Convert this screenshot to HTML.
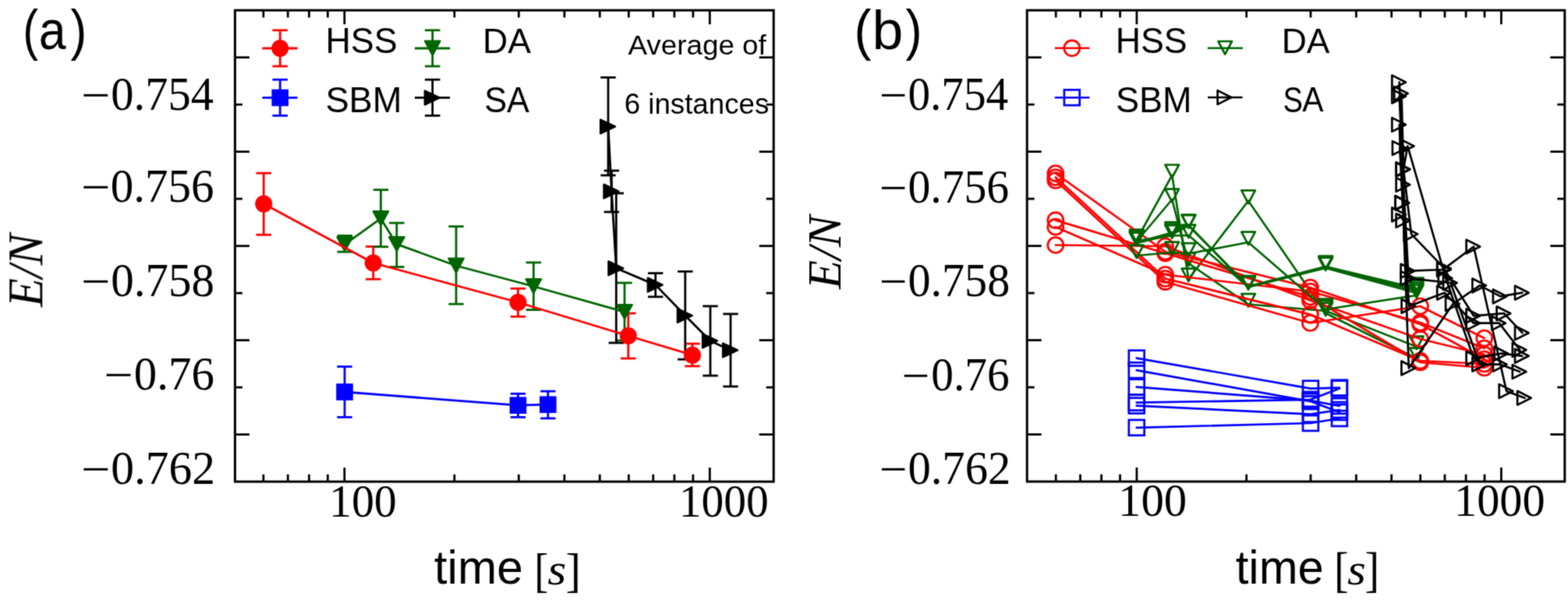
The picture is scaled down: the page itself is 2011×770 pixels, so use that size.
<!DOCTYPE html>
<html lang="en">
<head>
<meta charset="utf-8">
<title>E/N versus time</title>
<style>
html,body{margin:0;padding:0;background:#fff;}
body{width:2011px;height:770px;overflow:hidden;}
svg{display:block;}
text{fill:#000;}
.serif{font-family:"Liberation Serif",serif;}
.sans{font-family:"Liberation Sans",sans-serif;}
</style>
</head>
<body>
<svg width="2011" height="770" viewBox="0 0 2011 770">
<defs><filter id="soft" filterUnits="userSpaceOnUse" x="0" y="0" width="2011" height="770" color-interpolation-filters="sRGB"><feConvolveMatrix order="3" kernelMatrix="0.0289 0.1122 0.0289 0.1122 0.4356 0.1122 0.0289 0.1122 0.0289" divisor="1" edgeMode="none" preserveAlpha="false"/></filter></defs>
<rect x="0" y="0" width="2011" height="770" fill="#ffffff"/>
<g filter="url(#soft)">
<rect x="301.40" y="13.20" width="690.80" height="604.90" fill="none" stroke="#000" stroke-width="3.0"/>
<line x1="337.86" y1="618.10" x2="337.86" y2="608.80" stroke="#000000" stroke-width="2.8" stroke-linecap="butt"/>
<line x1="337.86" y1="13.20" x2="337.86" y2="22.50" stroke="#000000" stroke-width="2.8" stroke-linecap="butt"/>
<line x1="369.23" y1="618.10" x2="369.23" y2="608.80" stroke="#000000" stroke-width="2.8" stroke-linecap="butt"/>
<line x1="369.23" y1="13.20" x2="369.23" y2="22.50" stroke="#000000" stroke-width="2.8" stroke-linecap="butt"/>
<line x1="396.40" y1="618.10" x2="396.40" y2="608.80" stroke="#000000" stroke-width="2.8" stroke-linecap="butt"/>
<line x1="396.40" y1="13.20" x2="396.40" y2="22.50" stroke="#000000" stroke-width="2.8" stroke-linecap="butt"/>
<line x1="420.36" y1="618.10" x2="420.36" y2="608.80" stroke="#000000" stroke-width="2.8" stroke-linecap="butt"/>
<line x1="420.36" y1="13.20" x2="420.36" y2="22.50" stroke="#000000" stroke-width="2.8" stroke-linecap="butt"/>
<line x1="441.80" y1="618.10" x2="441.80" y2="600.10" stroke="#000000" stroke-width="2.8" stroke-linecap="butt"/>
<line x1="441.80" y1="13.20" x2="441.80" y2="31.20" stroke="#000000" stroke-width="2.8" stroke-linecap="butt"/>
<line x1="582.83" y1="618.10" x2="582.83" y2="608.80" stroke="#000000" stroke-width="2.8" stroke-linecap="butt"/>
<line x1="582.83" y1="13.20" x2="582.83" y2="22.50" stroke="#000000" stroke-width="2.8" stroke-linecap="butt"/>
<line x1="665.33" y1="618.10" x2="665.33" y2="608.80" stroke="#000000" stroke-width="2.8" stroke-linecap="butt"/>
<line x1="665.33" y1="13.20" x2="665.33" y2="22.50" stroke="#000000" stroke-width="2.8" stroke-linecap="butt"/>
<line x1="723.87" y1="618.10" x2="723.87" y2="608.80" stroke="#000000" stroke-width="2.8" stroke-linecap="butt"/>
<line x1="723.87" y1="13.20" x2="723.87" y2="22.50" stroke="#000000" stroke-width="2.8" stroke-linecap="butt"/>
<line x1="769.27" y1="618.10" x2="769.27" y2="608.80" stroke="#000000" stroke-width="2.8" stroke-linecap="butt"/>
<line x1="769.27" y1="13.20" x2="769.27" y2="22.50" stroke="#000000" stroke-width="2.8" stroke-linecap="butt"/>
<line x1="806.36" y1="618.10" x2="806.36" y2="608.80" stroke="#000000" stroke-width="2.8" stroke-linecap="butt"/>
<line x1="806.36" y1="13.20" x2="806.36" y2="22.50" stroke="#000000" stroke-width="2.8" stroke-linecap="butt"/>
<line x1="837.73" y1="618.10" x2="837.73" y2="608.80" stroke="#000000" stroke-width="2.8" stroke-linecap="butt"/>
<line x1="837.73" y1="13.20" x2="837.73" y2="22.50" stroke="#000000" stroke-width="2.8" stroke-linecap="butt"/>
<line x1="864.90" y1="618.10" x2="864.90" y2="608.80" stroke="#000000" stroke-width="2.8" stroke-linecap="butt"/>
<line x1="864.90" y1="13.20" x2="864.90" y2="22.50" stroke="#000000" stroke-width="2.8" stroke-linecap="butt"/>
<line x1="888.86" y1="618.10" x2="888.86" y2="608.80" stroke="#000000" stroke-width="2.8" stroke-linecap="butt"/>
<line x1="888.86" y1="13.20" x2="888.86" y2="22.50" stroke="#000000" stroke-width="2.8" stroke-linecap="butt"/>
<line x1="910.30" y1="618.10" x2="910.30" y2="600.10" stroke="#000000" stroke-width="2.8" stroke-linecap="butt"/>
<line x1="910.30" y1="13.20" x2="910.30" y2="31.20" stroke="#000000" stroke-width="2.8" stroke-linecap="butt"/>
<line x1="301.40" y1="73.69" x2="319.90" y2="73.69" stroke="#000000" stroke-width="2.8" stroke-linecap="butt"/>
<line x1="992.20" y1="73.69" x2="973.70" y2="73.69" stroke="#000000" stroke-width="2.8" stroke-linecap="butt"/>
<line x1="301.40" y1="134.18" x2="310.90" y2="134.18" stroke="#000000" stroke-width="2.8" stroke-linecap="butt"/>
<line x1="992.20" y1="134.18" x2="982.70" y2="134.18" stroke="#000000" stroke-width="2.8" stroke-linecap="butt"/>
<line x1="301.40" y1="194.67" x2="319.90" y2="194.67" stroke="#000000" stroke-width="2.8" stroke-linecap="butt"/>
<line x1="992.20" y1="194.67" x2="973.70" y2="194.67" stroke="#000000" stroke-width="2.8" stroke-linecap="butt"/>
<line x1="301.40" y1="255.16" x2="310.90" y2="255.16" stroke="#000000" stroke-width="2.8" stroke-linecap="butt"/>
<line x1="992.20" y1="255.16" x2="982.70" y2="255.16" stroke="#000000" stroke-width="2.8" stroke-linecap="butt"/>
<line x1="301.40" y1="315.65" x2="319.90" y2="315.65" stroke="#000000" stroke-width="2.8" stroke-linecap="butt"/>
<line x1="992.20" y1="315.65" x2="973.70" y2="315.65" stroke="#000000" stroke-width="2.8" stroke-linecap="butt"/>
<line x1="301.40" y1="376.14" x2="310.90" y2="376.14" stroke="#000000" stroke-width="2.8" stroke-linecap="butt"/>
<line x1="992.20" y1="376.14" x2="982.70" y2="376.14" stroke="#000000" stroke-width="2.8" stroke-linecap="butt"/>
<line x1="301.40" y1="436.63" x2="319.90" y2="436.63" stroke="#000000" stroke-width="2.8" stroke-linecap="butt"/>
<line x1="992.20" y1="436.63" x2="973.70" y2="436.63" stroke="#000000" stroke-width="2.8" stroke-linecap="butt"/>
<line x1="301.40" y1="497.12" x2="310.90" y2="497.12" stroke="#000000" stroke-width="2.8" stroke-linecap="butt"/>
<line x1="992.20" y1="497.12" x2="982.70" y2="497.12" stroke="#000000" stroke-width="2.8" stroke-linecap="butt"/>
<line x1="301.40" y1="557.61" x2="319.90" y2="557.61" stroke="#000000" stroke-width="2.8" stroke-linecap="butt"/>
<line x1="992.20" y1="557.61" x2="973.70" y2="557.61" stroke="#000000" stroke-width="2.8" stroke-linecap="butt"/>
<line x1="338.20" y1="222.20" x2="338.20" y2="301.30" stroke="#ff0000" stroke-width="2.8" stroke-linecap="butt"/>
<line x1="328.50" y1="222.20" x2="347.90" y2="222.20" stroke="#ff0000" stroke-width="2.8" stroke-linecap="butt"/>
<line x1="328.50" y1="301.30" x2="347.90" y2="301.30" stroke="#ff0000" stroke-width="2.8" stroke-linecap="butt"/>
<line x1="478.70" y1="316.40" x2="478.70" y2="358.30" stroke="#ff0000" stroke-width="2.8" stroke-linecap="butt"/>
<line x1="469.00" y1="316.40" x2="488.40" y2="316.40" stroke="#ff0000" stroke-width="2.8" stroke-linecap="butt"/>
<line x1="469.00" y1="358.30" x2="488.40" y2="358.30" stroke="#ff0000" stroke-width="2.8" stroke-linecap="butt"/>
<line x1="664.40" y1="370.30" x2="664.40" y2="406.30" stroke="#ff0000" stroke-width="2.8" stroke-linecap="butt"/>
<line x1="654.70" y1="370.30" x2="674.10" y2="370.30" stroke="#ff0000" stroke-width="2.8" stroke-linecap="butt"/>
<line x1="654.70" y1="406.30" x2="674.10" y2="406.30" stroke="#ff0000" stroke-width="2.8" stroke-linecap="butt"/>
<line x1="805.80" y1="402.10" x2="805.80" y2="460.00" stroke="#ff0000" stroke-width="2.8" stroke-linecap="butt"/>
<line x1="796.10" y1="402.10" x2="815.50" y2="402.10" stroke="#ff0000" stroke-width="2.8" stroke-linecap="butt"/>
<line x1="796.10" y1="460.00" x2="815.50" y2="460.00" stroke="#ff0000" stroke-width="2.8" stroke-linecap="butt"/>
<line x1="888.00" y1="441.10" x2="888.00" y2="469.90" stroke="#ff0000" stroke-width="2.8" stroke-linecap="butt"/>
<line x1="878.30" y1="441.10" x2="897.70" y2="441.10" stroke="#ff0000" stroke-width="2.8" stroke-linecap="butt"/>
<line x1="878.30" y1="469.90" x2="897.70" y2="469.90" stroke="#ff0000" stroke-width="2.8" stroke-linecap="butt"/>
<line x1="442.00" y1="470.50" x2="442.00" y2="535.40" stroke="#0000ff" stroke-width="2.8" stroke-linecap="butt"/>
<line x1="432.30" y1="470.50" x2="451.70" y2="470.50" stroke="#0000ff" stroke-width="2.8" stroke-linecap="butt"/>
<line x1="432.30" y1="535.40" x2="451.70" y2="535.40" stroke="#0000ff" stroke-width="2.8" stroke-linecap="butt"/>
<line x1="664.40" y1="505.30" x2="664.40" y2="535.40" stroke="#0000ff" stroke-width="2.8" stroke-linecap="butt"/>
<line x1="654.70" y1="505.30" x2="674.10" y2="505.30" stroke="#0000ff" stroke-width="2.8" stroke-linecap="butt"/>
<line x1="654.70" y1="535.40" x2="674.10" y2="535.40" stroke="#0000ff" stroke-width="2.8" stroke-linecap="butt"/>
<line x1="702.80" y1="502.10" x2="702.80" y2="536.90" stroke="#0000ff" stroke-width="2.8" stroke-linecap="butt"/>
<line x1="693.10" y1="502.10" x2="712.50" y2="502.10" stroke="#0000ff" stroke-width="2.8" stroke-linecap="butt"/>
<line x1="693.10" y1="536.90" x2="712.50" y2="536.90" stroke="#0000ff" stroke-width="2.8" stroke-linecap="butt"/>
<line x1="442.20" y1="302.50" x2="442.20" y2="323.20" stroke="#006400" stroke-width="2.8" stroke-linecap="butt"/>
<line x1="432.50" y1="302.50" x2="451.90" y2="302.50" stroke="#006400" stroke-width="2.8" stroke-linecap="butt"/>
<line x1="432.50" y1="323.20" x2="451.90" y2="323.20" stroke="#006400" stroke-width="2.8" stroke-linecap="butt"/>
<line x1="488.40" y1="243.60" x2="488.40" y2="316.70" stroke="#006400" stroke-width="2.8" stroke-linecap="butt"/>
<line x1="478.70" y1="243.60" x2="498.10" y2="243.60" stroke="#006400" stroke-width="2.8" stroke-linecap="butt"/>
<line x1="478.70" y1="316.70" x2="498.10" y2="316.70" stroke="#006400" stroke-width="2.8" stroke-linecap="butt"/>
<line x1="508.80" y1="286.10" x2="508.80" y2="342.60" stroke="#006400" stroke-width="2.8" stroke-linecap="butt"/>
<line x1="499.10" y1="286.10" x2="518.50" y2="286.10" stroke="#006400" stroke-width="2.8" stroke-linecap="butt"/>
<line x1="499.10" y1="342.60" x2="518.50" y2="342.60" stroke="#006400" stroke-width="2.8" stroke-linecap="butt"/>
<line x1="585.00" y1="290.60" x2="585.00" y2="390.20" stroke="#006400" stroke-width="2.8" stroke-linecap="butt"/>
<line x1="575.30" y1="290.60" x2="594.70" y2="290.60" stroke="#006400" stroke-width="2.8" stroke-linecap="butt"/>
<line x1="575.30" y1="390.20" x2="594.70" y2="390.20" stroke="#006400" stroke-width="2.8" stroke-linecap="butt"/>
<line x1="684.30" y1="336.90" x2="684.30" y2="397.60" stroke="#006400" stroke-width="2.8" stroke-linecap="butt"/>
<line x1="674.60" y1="336.90" x2="694.00" y2="336.90" stroke="#006400" stroke-width="2.8" stroke-linecap="butt"/>
<line x1="674.60" y1="397.60" x2="694.00" y2="397.60" stroke="#006400" stroke-width="2.8" stroke-linecap="butt"/>
<line x1="801.00" y1="363.00" x2="801.00" y2="437.00" stroke="#006400" stroke-width="2.8" stroke-linecap="butt"/>
<line x1="791.30" y1="363.00" x2="810.70" y2="363.00" stroke="#006400" stroke-width="2.8" stroke-linecap="butt"/>
<line x1="791.30" y1="437.00" x2="810.70" y2="437.00" stroke="#006400" stroke-width="2.8" stroke-linecap="butt"/>
<line x1="780.00" y1="99.40" x2="780.00" y2="225.00" stroke="#000000" stroke-width="2.8" stroke-linecap="butt"/>
<line x1="770.30" y1="99.40" x2="789.70" y2="99.40" stroke="#000000" stroke-width="2.8" stroke-linecap="butt"/>
<line x1="770.30" y1="225.00" x2="789.70" y2="225.00" stroke="#000000" stroke-width="2.8" stroke-linecap="butt"/>
<line x1="784.40" y1="219.00" x2="784.40" y2="272.00" stroke="#000000" stroke-width="2.8" stroke-linecap="butt"/>
<line x1="774.70" y1="219.00" x2="794.10" y2="219.00" stroke="#000000" stroke-width="2.8" stroke-linecap="butt"/>
<line x1="774.70" y1="272.00" x2="794.10" y2="272.00" stroke="#000000" stroke-width="2.8" stroke-linecap="butt"/>
<line x1="790.30" y1="248.00" x2="790.30" y2="440.00" stroke="#000000" stroke-width="2.8" stroke-linecap="butt"/>
<line x1="780.60" y1="248.00" x2="800.00" y2="248.00" stroke="#000000" stroke-width="2.8" stroke-linecap="butt"/>
<line x1="780.60" y1="440.00" x2="800.00" y2="440.00" stroke="#000000" stroke-width="2.8" stroke-linecap="butt"/>
<line x1="840.70" y1="350.60" x2="840.70" y2="380.90" stroke="#000000" stroke-width="2.8" stroke-linecap="butt"/>
<line x1="831.00" y1="350.60" x2="850.40" y2="350.60" stroke="#000000" stroke-width="2.8" stroke-linecap="butt"/>
<line x1="831.00" y1="380.90" x2="850.40" y2="380.90" stroke="#000000" stroke-width="2.8" stroke-linecap="butt"/>
<line x1="878.80" y1="348.40" x2="878.80" y2="461.20" stroke="#000000" stroke-width="2.8" stroke-linecap="butt"/>
<line x1="869.10" y1="348.40" x2="888.50" y2="348.40" stroke="#000000" stroke-width="2.8" stroke-linecap="butt"/>
<line x1="869.10" y1="461.20" x2="888.50" y2="461.20" stroke="#000000" stroke-width="2.8" stroke-linecap="butt"/>
<line x1="911.00" y1="392.90" x2="911.00" y2="482.10" stroke="#000000" stroke-width="2.8" stroke-linecap="butt"/>
<line x1="901.30" y1="392.90" x2="920.70" y2="392.90" stroke="#000000" stroke-width="2.8" stroke-linecap="butt"/>
<line x1="901.30" y1="482.10" x2="920.70" y2="482.10" stroke="#000000" stroke-width="2.8" stroke-linecap="butt"/>
<line x1="937.00" y1="402.90" x2="937.00" y2="496.00" stroke="#000000" stroke-width="2.8" stroke-linecap="butt"/>
<line x1="927.30" y1="402.90" x2="946.70" y2="402.90" stroke="#000000" stroke-width="2.8" stroke-linecap="butt"/>
<line x1="927.30" y1="496.00" x2="946.70" y2="496.00" stroke="#000000" stroke-width="2.8" stroke-linecap="butt"/>
<polyline points="442.00,503.00 664.40,520.20 702.80,519.20" fill="none" stroke="#0000ff" stroke-width="2.8" stroke-linejoin="round" stroke-linecap="round"/>
<rect x="431.20" y="492.20" width="21.6" height="21.6" fill="#0000ff"/>
<rect x="653.60" y="509.40" width="21.6" height="21.6" fill="#0000ff"/>
<rect x="692.00" y="508.40" width="21.6" height="21.6" fill="#0000ff"/>
<polyline points="442.20,313.60 488.40,280.40 508.80,313.40 585.00,341.00 684.30,367.50 801.00,400.30" fill="none" stroke="#006400" stroke-width="2.8" stroke-linejoin="round" stroke-linecap="round"/>
<polygon points="432.50,304.40 451.90,304.40 442.20,322.20" fill="#006400" stroke="#006400" stroke-width="2.4" stroke-linejoin="round" stroke-linecap="round"/>
<polygon points="478.70,271.20 498.10,271.20 488.40,289.00" fill="#006400" stroke="#006400" stroke-width="2.4" stroke-linejoin="round" stroke-linecap="round"/>
<polygon points="499.10,304.20 518.50,304.20 508.80,322.00" fill="#006400" stroke="#006400" stroke-width="2.4" stroke-linejoin="round" stroke-linecap="round"/>
<polygon points="575.30,331.80 594.70,331.80 585.00,349.60" fill="#006400" stroke="#006400" stroke-width="2.4" stroke-linejoin="round" stroke-linecap="round"/>
<polygon points="674.60,358.30 694.00,358.30 684.30,376.10" fill="#006400" stroke="#006400" stroke-width="2.4" stroke-linejoin="round" stroke-linecap="round"/>
<polygon points="791.30,391.10 810.70,391.10 801.00,408.90" fill="#006400" stroke="#006400" stroke-width="2.4" stroke-linejoin="round" stroke-linecap="round"/>
<polyline points="780.00,162.40 784.40,245.60 790.30,344.30 840.70,365.60 878.80,405.00 911.00,437.40 937.00,449.40" fill="none" stroke="#000000" stroke-width="2.8" stroke-linejoin="round" stroke-linecap="round"/>
<polygon points="770.10,153.50 770.10,171.30 789.00,162.40" fill="#000000" stroke="#000000" stroke-width="2.4" stroke-linejoin="round" stroke-linecap="round"/>
<polygon points="774.50,236.70 774.50,254.50 793.40,245.60" fill="#000000" stroke="#000000" stroke-width="2.4" stroke-linejoin="round" stroke-linecap="round"/>
<polygon points="780.40,335.40 780.40,353.20 799.30,344.30" fill="#000000" stroke="#000000" stroke-width="2.4" stroke-linejoin="round" stroke-linecap="round"/>
<polygon points="830.80,356.70 830.80,374.50 849.70,365.60" fill="#000000" stroke="#000000" stroke-width="2.4" stroke-linejoin="round" stroke-linecap="round"/>
<polygon points="868.90,396.10 868.90,413.90 887.80,405.00" fill="#000000" stroke="#000000" stroke-width="2.4" stroke-linejoin="round" stroke-linecap="round"/>
<polygon points="901.10,428.50 901.10,446.30 920.00,437.40" fill="#000000" stroke="#000000" stroke-width="2.4" stroke-linejoin="round" stroke-linecap="round"/>
<polygon points="927.10,440.50 927.10,458.30 946.00,449.40" fill="#000000" stroke="#000000" stroke-width="2.4" stroke-linejoin="round" stroke-linecap="round"/>
<polyline points="338.20,261.60 478.70,337.50 664.40,388.00 805.80,431.00 888.00,455.70" fill="none" stroke="#ff0000" stroke-width="2.8" stroke-linejoin="round" stroke-linecap="round"/>
<circle cx="338.20" cy="261.60" r="11" fill="#ff0000"/>
<circle cx="478.70" cy="337.50" r="11" fill="#ff0000"/>
<circle cx="664.40" cy="388.00" r="11" fill="#ff0000"/>
<circle cx="805.80" cy="431.00" r="11" fill="#ff0000"/>
<circle cx="888.00" cy="455.70" r="11" fill="#ff0000"/>
<line x1="336.40" y1="62.00" x2="381.60" y2="62.00" stroke="#ff0000" stroke-width="2.8" stroke-linecap="butt"/>
<line x1="359.20" y1="38.80" x2="359.20" y2="85.00" stroke="#ff0000" stroke-width="2.8" stroke-linecap="butt"/>
<line x1="349.40" y1="38.80" x2="369.00" y2="38.80" stroke="#ff0000" stroke-width="2.8" stroke-linecap="butt"/>
<line x1="349.40" y1="85.00" x2="369.00" y2="85.00" stroke="#ff0000" stroke-width="2.8" stroke-linecap="butt"/>
<circle cx="359.20" cy="62.00" r="11" fill="#ff0000"/>
<line x1="336.40" y1="125.40" x2="381.60" y2="125.40" stroke="#0000ff" stroke-width="2.8" stroke-linecap="butt"/>
<line x1="359.20" y1="102.20" x2="359.20" y2="148.40" stroke="#0000ff" stroke-width="2.8" stroke-linecap="butt"/>
<line x1="349.40" y1="102.20" x2="369.00" y2="102.20" stroke="#0000ff" stroke-width="2.8" stroke-linecap="butt"/>
<line x1="349.40" y1="148.40" x2="369.00" y2="148.40" stroke="#0000ff" stroke-width="2.8" stroke-linecap="butt"/>
<rect x="348.40" y="114.60" width="21.6" height="21.6" fill="#0000ff"/>
<line x1="531.90" y1="62.00" x2="577.10" y2="62.00" stroke="#006400" stroke-width="2.8" stroke-linecap="butt"/>
<line x1="554.70" y1="38.80" x2="554.70" y2="85.00" stroke="#006400" stroke-width="2.8" stroke-linecap="butt"/>
<line x1="544.90" y1="38.80" x2="564.50" y2="38.80" stroke="#006400" stroke-width="2.8" stroke-linecap="butt"/>
<line x1="544.90" y1="85.00" x2="564.50" y2="85.00" stroke="#006400" stroke-width="2.8" stroke-linecap="butt"/>
<polygon points="545.00,52.80 564.40,52.80 554.70,70.60" fill="#006400" stroke="#006400" stroke-width="2.4" stroke-linejoin="round" stroke-linecap="round"/>
<line x1="531.90" y1="125.40" x2="577.10" y2="125.40" stroke="#000000" stroke-width="2.8" stroke-linecap="butt"/>
<line x1="554.70" y1="102.20" x2="554.70" y2="148.40" stroke="#000000" stroke-width="2.8" stroke-linecap="butt"/>
<line x1="544.90" y1="102.20" x2="564.50" y2="102.20" stroke="#000000" stroke-width="2.8" stroke-linecap="butt"/>
<line x1="544.90" y1="148.40" x2="564.50" y2="148.40" stroke="#000000" stroke-width="2.8" stroke-linecap="butt"/>
<polygon points="544.80,116.50 544.80,134.30 563.70,125.40" fill="#000000" stroke="#000000" stroke-width="2.4" stroke-linejoin="round" stroke-linecap="round"/>
<rect x="1317.20" y="13.20" width="689.60" height="604.80" fill="none" stroke="#000" stroke-width="3.0"/>
<line x1="1354.19" y1="618.00" x2="1354.19" y2="608.70" stroke="#000000" stroke-width="2.8" stroke-linecap="butt"/>
<line x1="1354.19" y1="13.20" x2="1354.19" y2="22.50" stroke="#000000" stroke-width="2.8" stroke-linecap="butt"/>
<line x1="1385.48" y1="618.00" x2="1385.48" y2="608.70" stroke="#000000" stroke-width="2.8" stroke-linecap="butt"/>
<line x1="1385.48" y1="13.20" x2="1385.48" y2="22.50" stroke="#000000" stroke-width="2.8" stroke-linecap="butt"/>
<line x1="1412.59" y1="618.00" x2="1412.59" y2="608.70" stroke="#000000" stroke-width="2.8" stroke-linecap="butt"/>
<line x1="1412.59" y1="13.20" x2="1412.59" y2="22.50" stroke="#000000" stroke-width="2.8" stroke-linecap="butt"/>
<line x1="1436.51" y1="618.00" x2="1436.51" y2="608.70" stroke="#000000" stroke-width="2.8" stroke-linecap="butt"/>
<line x1="1436.51" y1="13.20" x2="1436.51" y2="22.50" stroke="#000000" stroke-width="2.8" stroke-linecap="butt"/>
<line x1="1457.90" y1="618.00" x2="1457.90" y2="600.00" stroke="#000000" stroke-width="2.8" stroke-linecap="butt"/>
<line x1="1457.90" y1="13.20" x2="1457.90" y2="31.20" stroke="#000000" stroke-width="2.8" stroke-linecap="butt"/>
<line x1="1598.63" y1="618.00" x2="1598.63" y2="608.70" stroke="#000000" stroke-width="2.8" stroke-linecap="butt"/>
<line x1="1598.63" y1="13.20" x2="1598.63" y2="22.50" stroke="#000000" stroke-width="2.8" stroke-linecap="butt"/>
<line x1="1680.95" y1="618.00" x2="1680.95" y2="608.70" stroke="#000000" stroke-width="2.8" stroke-linecap="butt"/>
<line x1="1680.95" y1="13.20" x2="1680.95" y2="22.50" stroke="#000000" stroke-width="2.8" stroke-linecap="butt"/>
<line x1="1739.36" y1="618.00" x2="1739.36" y2="608.70" stroke="#000000" stroke-width="2.8" stroke-linecap="butt"/>
<line x1="1739.36" y1="13.20" x2="1739.36" y2="22.50" stroke="#000000" stroke-width="2.8" stroke-linecap="butt"/>
<line x1="1784.67" y1="618.00" x2="1784.67" y2="608.70" stroke="#000000" stroke-width="2.8" stroke-linecap="butt"/>
<line x1="1784.67" y1="13.20" x2="1784.67" y2="22.50" stroke="#000000" stroke-width="2.8" stroke-linecap="butt"/>
<line x1="1821.69" y1="618.00" x2="1821.69" y2="608.70" stroke="#000000" stroke-width="2.8" stroke-linecap="butt"/>
<line x1="1821.69" y1="13.20" x2="1821.69" y2="22.50" stroke="#000000" stroke-width="2.8" stroke-linecap="butt"/>
<line x1="1852.98" y1="618.00" x2="1852.98" y2="608.70" stroke="#000000" stroke-width="2.8" stroke-linecap="butt"/>
<line x1="1852.98" y1="13.20" x2="1852.98" y2="22.50" stroke="#000000" stroke-width="2.8" stroke-linecap="butt"/>
<line x1="1880.09" y1="618.00" x2="1880.09" y2="608.70" stroke="#000000" stroke-width="2.8" stroke-linecap="butt"/>
<line x1="1880.09" y1="13.20" x2="1880.09" y2="22.50" stroke="#000000" stroke-width="2.8" stroke-linecap="butt"/>
<line x1="1904.01" y1="618.00" x2="1904.01" y2="608.70" stroke="#000000" stroke-width="2.8" stroke-linecap="butt"/>
<line x1="1904.01" y1="13.20" x2="1904.01" y2="22.50" stroke="#000000" stroke-width="2.8" stroke-linecap="butt"/>
<line x1="1925.40" y1="618.00" x2="1925.40" y2="600.00" stroke="#000000" stroke-width="2.8" stroke-linecap="butt"/>
<line x1="1925.40" y1="13.20" x2="1925.40" y2="31.20" stroke="#000000" stroke-width="2.8" stroke-linecap="butt"/>
<line x1="1317.20" y1="73.68" x2="1335.70" y2="73.68" stroke="#000000" stroke-width="2.8" stroke-linecap="butt"/>
<line x1="2006.80" y1="73.68" x2="1988.30" y2="73.68" stroke="#000000" stroke-width="2.8" stroke-linecap="butt"/>
<line x1="1317.20" y1="134.16" x2="1326.70" y2="134.16" stroke="#000000" stroke-width="2.8" stroke-linecap="butt"/>
<line x1="2006.80" y1="134.16" x2="1997.30" y2="134.16" stroke="#000000" stroke-width="2.8" stroke-linecap="butt"/>
<line x1="1317.20" y1="194.64" x2="1335.70" y2="194.64" stroke="#000000" stroke-width="2.8" stroke-linecap="butt"/>
<line x1="2006.80" y1="194.64" x2="1988.30" y2="194.64" stroke="#000000" stroke-width="2.8" stroke-linecap="butt"/>
<line x1="1317.20" y1="255.12" x2="1326.70" y2="255.12" stroke="#000000" stroke-width="2.8" stroke-linecap="butt"/>
<line x1="2006.80" y1="255.12" x2="1997.30" y2="255.12" stroke="#000000" stroke-width="2.8" stroke-linecap="butt"/>
<line x1="1317.20" y1="315.60" x2="1335.70" y2="315.60" stroke="#000000" stroke-width="2.8" stroke-linecap="butt"/>
<line x1="2006.80" y1="315.60" x2="1988.30" y2="315.60" stroke="#000000" stroke-width="2.8" stroke-linecap="butt"/>
<line x1="1317.20" y1="376.08" x2="1326.70" y2="376.08" stroke="#000000" stroke-width="2.8" stroke-linecap="butt"/>
<line x1="2006.80" y1="376.08" x2="1997.30" y2="376.08" stroke="#000000" stroke-width="2.8" stroke-linecap="butt"/>
<line x1="1317.20" y1="436.56" x2="1335.70" y2="436.56" stroke="#000000" stroke-width="2.8" stroke-linecap="butt"/>
<line x1="2006.80" y1="436.56" x2="1988.30" y2="436.56" stroke="#000000" stroke-width="2.8" stroke-linecap="butt"/>
<line x1="1317.20" y1="497.04" x2="1326.70" y2="497.04" stroke="#000000" stroke-width="2.8" stroke-linecap="butt"/>
<line x1="2006.80" y1="497.04" x2="1997.30" y2="497.04" stroke="#000000" stroke-width="2.8" stroke-linecap="butt"/>
<line x1="1317.20" y1="557.52" x2="1335.70" y2="557.52" stroke="#000000" stroke-width="2.8" stroke-linecap="butt"/>
<line x1="2006.80" y1="557.52" x2="1988.30" y2="557.52" stroke="#000000" stroke-width="2.8" stroke-linecap="butt"/>
<polyline points="1457.70,459.60 1680.90,498.60 1717.90,497.60" fill="none" stroke="#0000ff" stroke-width="2.7" stroke-linejoin="round" stroke-linecap="round"/>
<rect x="1447.80" y="449.70" width="19.8" height="19.8" fill="none" stroke="#0000ff" stroke-width="2.7"/>
<rect x="1671.00" y="488.70" width="19.8" height="19.8" fill="none" stroke="#0000ff" stroke-width="2.7"/>
<rect x="1708.00" y="487.70" width="19.8" height="19.8" fill="none" stroke="#0000ff" stroke-width="2.7"/>
<polyline points="1457.70,475.20 1680.90,515.10 1717.90,529.00" fill="none" stroke="#0000ff" stroke-width="2.7" stroke-linejoin="round" stroke-linecap="round"/>
<rect x="1447.80" y="465.30" width="19.8" height="19.8" fill="none" stroke="#0000ff" stroke-width="2.7"/>
<rect x="1671.00" y="505.20" width="19.8" height="19.8" fill="none" stroke="#0000ff" stroke-width="2.7"/>
<rect x="1708.00" y="519.10" width="19.8" height="19.8" fill="none" stroke="#0000ff" stroke-width="2.7"/>
<polyline points="1457.70,496.60 1680.90,514.10 1717.90,521.00" fill="none" stroke="#0000ff" stroke-width="2.7" stroke-linejoin="round" stroke-linecap="round"/>
<rect x="1447.80" y="486.70" width="19.8" height="19.8" fill="none" stroke="#0000ff" stroke-width="2.7"/>
<rect x="1671.00" y="504.20" width="19.8" height="19.8" fill="none" stroke="#0000ff" stroke-width="2.7"/>
<rect x="1708.00" y="511.10" width="19.8" height="19.8" fill="none" stroke="#0000ff" stroke-width="2.7"/>
<polyline points="1457.70,516.70 1680.90,512.80 1717.90,498.50" fill="none" stroke="#0000ff" stroke-width="2.7" stroke-linejoin="round" stroke-linecap="round"/>
<rect x="1447.80" y="506.80" width="19.8" height="19.8" fill="none" stroke="#0000ff" stroke-width="2.7"/>
<rect x="1671.00" y="502.90" width="19.8" height="19.8" fill="none" stroke="#0000ff" stroke-width="2.7"/>
<rect x="1708.00" y="488.60" width="19.8" height="19.8" fill="none" stroke="#0000ff" stroke-width="2.7"/>
<polyline points="1457.70,520.60 1680.90,531.70 1717.90,526.00" fill="none" stroke="#0000ff" stroke-width="2.7" stroke-linejoin="round" stroke-linecap="round"/>
<rect x="1447.80" y="510.70" width="19.8" height="19.8" fill="none" stroke="#0000ff" stroke-width="2.7"/>
<rect x="1671.00" y="521.80" width="19.8" height="19.8" fill="none" stroke="#0000ff" stroke-width="2.7"/>
<rect x="1708.00" y="516.10" width="19.8" height="19.8" fill="none" stroke="#0000ff" stroke-width="2.7"/>
<polyline points="1457.70,548.80 1680.90,543.00 1717.90,537.00" fill="none" stroke="#0000ff" stroke-width="2.7" stroke-linejoin="round" stroke-linecap="round"/>
<rect x="1447.80" y="538.90" width="19.8" height="19.8" fill="none" stroke="#0000ff" stroke-width="2.7"/>
<rect x="1671.00" y="533.10" width="19.8" height="19.8" fill="none" stroke="#0000ff" stroke-width="2.7"/>
<rect x="1708.00" y="527.10" width="19.8" height="19.8" fill="none" stroke="#0000ff" stroke-width="2.7"/>
<polyline points="1457.70,308.00 1503.20,224.90 1524.40,358.00 1601.00,257.80 1700.20,402.00 1816.80,460.00" fill="none" stroke="#006400" stroke-width="2.7" stroke-linejoin="round" stroke-linecap="round"/>
<polygon points="1448.90,294.60 1466.50,294.60 1457.70,311.20" fill="none" stroke="#006400" stroke-width="2.7" stroke-linejoin="round" stroke-linecap="round"/>
<polygon points="1494.40,211.50 1512.00,211.50 1503.20,228.10" fill="none" stroke="#006400" stroke-width="2.7" stroke-linejoin="round" stroke-linecap="round"/>
<polygon points="1515.60,344.60 1533.20,344.60 1524.40,361.20" fill="none" stroke="#006400" stroke-width="2.7" stroke-linejoin="round" stroke-linecap="round"/>
<polygon points="1592.20,244.40 1609.80,244.40 1601.00,261.00" fill="none" stroke="#006400" stroke-width="2.7" stroke-linejoin="round" stroke-linecap="round"/>
<polygon points="1691.40,388.60 1709.00,388.60 1700.20,405.20" fill="none" stroke="#006400" stroke-width="2.7" stroke-linejoin="round" stroke-linecap="round"/>
<polygon points="1808.00,446.60 1825.60,446.60 1816.80,463.20" fill="none" stroke="#006400" stroke-width="2.7" stroke-linejoin="round" stroke-linecap="round"/>
<polyline points="1457.70,310.00 1503.20,256.00 1524.40,338.00 1601.00,390.50 1700.20,399.00 1816.80,445.00" fill="none" stroke="#006400" stroke-width="2.7" stroke-linejoin="round" stroke-linecap="round"/>
<polygon points="1448.90,296.60 1466.50,296.60 1457.70,313.20" fill="none" stroke="#006400" stroke-width="2.7" stroke-linejoin="round" stroke-linecap="round"/>
<polygon points="1494.40,242.60 1512.00,242.60 1503.20,259.20" fill="none" stroke="#006400" stroke-width="2.7" stroke-linejoin="round" stroke-linecap="round"/>
<polygon points="1515.60,324.60 1533.20,324.60 1524.40,341.20" fill="none" stroke="#006400" stroke-width="2.7" stroke-linejoin="round" stroke-linecap="round"/>
<polygon points="1592.20,377.10 1609.80,377.10 1601.00,393.70" fill="none" stroke="#006400" stroke-width="2.7" stroke-linejoin="round" stroke-linecap="round"/>
<polygon points="1691.40,385.60 1709.00,385.60 1700.20,402.20" fill="none" stroke="#006400" stroke-width="2.7" stroke-linejoin="round" stroke-linecap="round"/>
<polygon points="1808.00,431.60 1825.60,431.60 1816.80,448.20" fill="none" stroke="#006400" stroke-width="2.7" stroke-linejoin="round" stroke-linecap="round"/>
<polyline points="1353.80,222.50 1494.50,323.00 1680.40,369.00 1821.50,416.00 1903.70,461.00" fill="none" stroke="#ff0000" stroke-width="2.7" stroke-linejoin="round" stroke-linecap="round"/>
<circle cx="1353.80" cy="222.50" r="10.0" fill="none" stroke="#ff0000" stroke-width="2.7"/>
<circle cx="1494.50" cy="323.00" r="10.0" fill="none" stroke="#ff0000" stroke-width="2.7"/>
<circle cx="1680.40" cy="369.00" r="10.0" fill="none" stroke="#ff0000" stroke-width="2.7"/>
<circle cx="1821.50" cy="416.00" r="10.0" fill="none" stroke="#ff0000" stroke-width="2.7"/>
<circle cx="1903.70" cy="461.00" r="10.0" fill="none" stroke="#ff0000" stroke-width="2.7"/>
<polyline points="1353.80,227.50 1494.50,357.50 1680.40,403.60 1821.50,463.00 1903.70,467.00" fill="none" stroke="#ff0000" stroke-width="2.7" stroke-linejoin="round" stroke-linecap="round"/>
<circle cx="1353.80" cy="227.50" r="10.0" fill="none" stroke="#ff0000" stroke-width="2.7"/>
<circle cx="1494.50" cy="357.50" r="10.0" fill="none" stroke="#ff0000" stroke-width="2.7"/>
<circle cx="1680.40" cy="403.60" r="10.0" fill="none" stroke="#ff0000" stroke-width="2.7"/>
<circle cx="1821.50" cy="463.00" r="10.0" fill="none" stroke="#ff0000" stroke-width="2.7"/>
<circle cx="1903.70" cy="467.00" r="10.0" fill="none" stroke="#ff0000" stroke-width="2.7"/>
<polyline points="1353.80,231.50 1494.50,361.70 1680.40,414.50 1821.50,393.00 1903.70,434.00" fill="none" stroke="#ff0000" stroke-width="2.7" stroke-linejoin="round" stroke-linecap="round"/>
<circle cx="1353.80" cy="231.50" r="10.0" fill="none" stroke="#ff0000" stroke-width="2.7"/>
<circle cx="1494.50" cy="361.70" r="10.0" fill="none" stroke="#ff0000" stroke-width="2.7"/>
<circle cx="1680.40" cy="414.50" r="10.0" fill="none" stroke="#ff0000" stroke-width="2.7"/>
<circle cx="1821.50" cy="393.00" r="10.0" fill="none" stroke="#ff0000" stroke-width="2.7"/>
<circle cx="1903.70" cy="434.00" r="10.0" fill="none" stroke="#ff0000" stroke-width="2.7"/>
<polyline points="1353.80,282.60 1494.50,325.00 1680.40,381.00 1821.50,465.00 1903.70,472.00" fill="none" stroke="#ff0000" stroke-width="2.7" stroke-linejoin="round" stroke-linecap="round"/>
<circle cx="1353.80" cy="282.60" r="10.0" fill="none" stroke="#ff0000" stroke-width="2.7"/>
<circle cx="1494.50" cy="325.00" r="10.0" fill="none" stroke="#ff0000" stroke-width="2.7"/>
<circle cx="1680.40" cy="381.00" r="10.0" fill="none" stroke="#ff0000" stroke-width="2.7"/>
<circle cx="1821.50" cy="465.00" r="10.0" fill="none" stroke="#ff0000" stroke-width="2.7"/>
<circle cx="1903.70" cy="472.00" r="10.0" fill="none" stroke="#ff0000" stroke-width="2.7"/>
<polyline points="1353.80,291.20 1494.50,352.50 1680.40,374.00 1821.50,414.00 1903.70,447.00" fill="none" stroke="#ff0000" stroke-width="2.7" stroke-linejoin="round" stroke-linecap="round"/>
<circle cx="1353.80" cy="291.20" r="10.0" fill="none" stroke="#ff0000" stroke-width="2.7"/>
<circle cx="1494.50" cy="352.50" r="10.0" fill="none" stroke="#ff0000" stroke-width="2.7"/>
<circle cx="1680.40" cy="374.00" r="10.0" fill="none" stroke="#ff0000" stroke-width="2.7"/>
<circle cx="1821.50" cy="414.00" r="10.0" fill="none" stroke="#ff0000" stroke-width="2.7"/>
<circle cx="1903.70" cy="447.00" r="10.0" fill="none" stroke="#ff0000" stroke-width="2.7"/>
<polyline points="1353.80,314.50 1494.50,316.00 1680.40,385.50 1821.50,435.00 1903.70,455.00" fill="none" stroke="#ff0000" stroke-width="2.7" stroke-linejoin="round" stroke-linecap="round"/>
<circle cx="1353.80" cy="314.50" r="10.0" fill="none" stroke="#ff0000" stroke-width="2.7"/>
<circle cx="1494.50" cy="316.00" r="10.0" fill="none" stroke="#ff0000" stroke-width="2.7"/>
<circle cx="1680.40" cy="385.50" r="10.0" fill="none" stroke="#ff0000" stroke-width="2.7"/>
<circle cx="1821.50" cy="435.00" r="10.0" fill="none" stroke="#ff0000" stroke-width="2.7"/>
<circle cx="1903.70" cy="455.00" r="10.0" fill="none" stroke="#ff0000" stroke-width="2.7"/>
<polyline points="1457.70,311.00 1503.20,298.50 1524.40,289.00 1601.00,367.50 1700.20,342.00 1816.80,370.00" fill="none" stroke="#006400" stroke-width="2.7" stroke-linejoin="round" stroke-linecap="round"/>
<polygon points="1448.90,297.60 1466.50,297.60 1457.70,314.20" fill="none" stroke="#006400" stroke-width="2.7" stroke-linejoin="round" stroke-linecap="round"/>
<polygon points="1494.40,285.10 1512.00,285.10 1503.20,301.70" fill="none" stroke="#006400" stroke-width="2.7" stroke-linejoin="round" stroke-linecap="round"/>
<polygon points="1515.60,275.60 1533.20,275.60 1524.40,292.20" fill="none" stroke="#006400" stroke-width="2.7" stroke-linejoin="round" stroke-linecap="round"/>
<polygon points="1592.20,354.10 1609.80,354.10 1601.00,370.70" fill="none" stroke="#006400" stroke-width="2.7" stroke-linejoin="round" stroke-linecap="round"/>
<polygon points="1691.40,328.60 1709.00,328.60 1700.20,345.20" fill="none" stroke="#006400" stroke-width="2.7" stroke-linejoin="round" stroke-linecap="round"/>
<polygon points="1808.00,356.60 1825.60,356.60 1816.80,373.20" fill="none" stroke="#006400" stroke-width="2.7" stroke-linejoin="round" stroke-linecap="round"/>
<polyline points="1457.70,312.00 1503.20,300.90 1524.40,289.50 1601.00,368.00 1700.20,343.00 1816.80,373.00" fill="none" stroke="#006400" stroke-width="2.7" stroke-linejoin="round" stroke-linecap="round"/>
<polygon points="1448.90,298.60 1466.50,298.60 1457.70,315.20" fill="none" stroke="#006400" stroke-width="2.7" stroke-linejoin="round" stroke-linecap="round"/>
<polygon points="1494.40,287.50 1512.00,287.50 1503.20,304.10" fill="none" stroke="#006400" stroke-width="2.7" stroke-linejoin="round" stroke-linecap="round"/>
<polygon points="1515.60,276.10 1533.20,276.10 1524.40,292.70" fill="none" stroke="#006400" stroke-width="2.7" stroke-linejoin="round" stroke-linecap="round"/>
<polygon points="1592.20,354.60 1609.80,354.60 1601.00,371.20" fill="none" stroke="#006400" stroke-width="2.7" stroke-linejoin="round" stroke-linecap="round"/>
<polygon points="1691.40,329.60 1709.00,329.60 1700.20,346.20" fill="none" stroke="#006400" stroke-width="2.7" stroke-linejoin="round" stroke-linecap="round"/>
<polygon points="1808.00,359.60 1825.60,359.60 1816.80,376.20" fill="none" stroke="#006400" stroke-width="2.7" stroke-linejoin="round" stroke-linecap="round"/>
<polyline points="1457.70,328.00 1503.20,324.00 1524.40,325.50 1601.00,311.00 1700.20,397.00 1816.80,379.00" fill="none" stroke="#006400" stroke-width="2.7" stroke-linejoin="round" stroke-linecap="round"/>
<polygon points="1448.90,314.60 1466.50,314.60 1457.70,331.20" fill="none" stroke="#006400" stroke-width="2.7" stroke-linejoin="round" stroke-linecap="round"/>
<polygon points="1494.40,310.60 1512.00,310.60 1503.20,327.20" fill="none" stroke="#006400" stroke-width="2.7" stroke-linejoin="round" stroke-linecap="round"/>
<polygon points="1515.60,312.10 1533.20,312.10 1524.40,328.70" fill="none" stroke="#006400" stroke-width="2.7" stroke-linejoin="round" stroke-linecap="round"/>
<polygon points="1592.20,297.60 1609.80,297.60 1601.00,314.20" fill="none" stroke="#006400" stroke-width="2.7" stroke-linejoin="round" stroke-linecap="round"/>
<polygon points="1691.40,383.60 1709.00,383.60 1700.20,400.20" fill="none" stroke="#006400" stroke-width="2.7" stroke-linejoin="round" stroke-linecap="round"/>
<polygon points="1808.00,365.60 1825.60,365.60 1816.80,382.20" fill="none" stroke="#006400" stroke-width="2.7" stroke-linejoin="round" stroke-linecap="round"/>
<polyline points="1457.70,309.00 1503.20,302.50 1524.40,302.00 1601.00,368.50 1700.20,344.00 1816.80,376.00" fill="none" stroke="#006400" stroke-width="2.7" stroke-linejoin="round" stroke-linecap="round"/>
<polygon points="1448.90,295.60 1466.50,295.60 1457.70,312.20" fill="none" stroke="#006400" stroke-width="2.7" stroke-linejoin="round" stroke-linecap="round"/>
<polygon points="1494.40,289.10 1512.00,289.10 1503.20,305.70" fill="none" stroke="#006400" stroke-width="2.7" stroke-linejoin="round" stroke-linecap="round"/>
<polygon points="1515.60,288.60 1533.20,288.60 1524.40,305.20" fill="none" stroke="#006400" stroke-width="2.7" stroke-linejoin="round" stroke-linecap="round"/>
<polygon points="1592.20,355.10 1609.80,355.10 1601.00,371.70" fill="none" stroke="#006400" stroke-width="2.7" stroke-linejoin="round" stroke-linecap="round"/>
<polygon points="1691.40,330.60 1709.00,330.60 1700.20,347.20" fill="none" stroke="#006400" stroke-width="2.7" stroke-linejoin="round" stroke-linecap="round"/>
<polygon points="1808.00,362.60 1825.60,362.60 1816.80,379.20" fill="none" stroke="#006400" stroke-width="2.7" stroke-linejoin="round" stroke-linecap="round"/>
<polyline points="1794.70,275.40 1800.00,283.00 1806.80,472.40 1863.50,390.00 1897.80,366.40 1924.30,380.40 1952.40,375.70" fill="none" stroke="#000000" stroke-width="2.7" stroke-linejoin="round" stroke-linecap="round"/>
<polygon points="1785.30,266.50 1785.30,284.30 1802.90,275.40" fill="none" stroke="#000000" stroke-width="2.7" stroke-linejoin="round" stroke-linecap="round"/>
<polygon points="1790.60,274.10 1790.60,291.90 1808.20,283.00" fill="none" stroke="#000000" stroke-width="2.7" stroke-linejoin="round" stroke-linecap="round"/>
<polygon points="1797.40,463.50 1797.40,481.30 1815.00,472.40" fill="none" stroke="#000000" stroke-width="2.7" stroke-linejoin="round" stroke-linecap="round"/>
<polygon points="1854.10,381.10 1854.10,398.90 1871.70,390.00" fill="none" stroke="#000000" stroke-width="2.7" stroke-linejoin="round" stroke-linecap="round"/>
<polygon points="1888.40,357.50 1888.40,375.30 1906.00,366.40" fill="none" stroke="#000000" stroke-width="2.7" stroke-linejoin="round" stroke-linecap="round"/>
<polygon points="1914.90,371.50 1914.90,389.30 1932.50,380.40" fill="none" stroke="#000000" stroke-width="2.7" stroke-linejoin="round" stroke-linecap="round"/>
<polygon points="1943.00,366.80 1943.00,384.60 1960.60,375.70" fill="none" stroke="#000000" stroke-width="2.7" stroke-linejoin="round" stroke-linecap="round"/>
<polyline points="1794.70,105.50 1800.00,217.00 1810.00,300.40 1852.60,344.60 1890.00,316.50 1932.10,502.00 1955.50,510.70" fill="none" stroke="#000000" stroke-width="2.7" stroke-linejoin="round" stroke-linecap="round"/>
<polygon points="1785.30,96.60 1785.30,114.40 1802.90,105.50" fill="none" stroke="#000000" stroke-width="2.7" stroke-linejoin="round" stroke-linecap="round"/>
<polygon points="1790.60,208.10 1790.60,225.90 1808.20,217.00" fill="none" stroke="#000000" stroke-width="2.7" stroke-linejoin="round" stroke-linecap="round"/>
<polygon points="1800.60,291.50 1800.60,309.30 1818.20,300.40" fill="none" stroke="#000000" stroke-width="2.7" stroke-linejoin="round" stroke-linecap="round"/>
<polygon points="1843.20,335.70 1843.20,353.50 1860.80,344.60" fill="none" stroke="#000000" stroke-width="2.7" stroke-linejoin="round" stroke-linecap="round"/>
<polygon points="1880.60,307.60 1880.60,325.40 1898.20,316.50" fill="none" stroke="#000000" stroke-width="2.7" stroke-linejoin="round" stroke-linecap="round"/>
<polygon points="1922.70,493.10 1922.70,510.90 1940.30,502.00" fill="none" stroke="#000000" stroke-width="2.7" stroke-linejoin="round" stroke-linecap="round"/>
<polygon points="1946.10,501.80 1946.10,519.60 1963.70,510.70" fill="none" stroke="#000000" stroke-width="2.7" stroke-linejoin="round" stroke-linecap="round"/>
<polyline points="1794.70,123.60 1800.00,237.00 1806.00,347.70 1852.60,346.00 1890.00,405.30 1929.00,402.20 1952.40,427.20" fill="none" stroke="#000000" stroke-width="2.7" stroke-linejoin="round" stroke-linecap="round"/>
<polygon points="1785.30,114.70 1785.30,132.50 1802.90,123.60" fill="none" stroke="#000000" stroke-width="2.7" stroke-linejoin="round" stroke-linecap="round"/>
<polygon points="1790.60,228.10 1790.60,245.90 1808.20,237.00" fill="none" stroke="#000000" stroke-width="2.7" stroke-linejoin="round" stroke-linecap="round"/>
<polygon points="1796.60,338.80 1796.60,356.60 1814.20,347.70" fill="none" stroke="#000000" stroke-width="2.7" stroke-linejoin="round" stroke-linecap="round"/>
<polygon points="1843.20,337.10 1843.20,354.90 1860.80,346.00" fill="none" stroke="#000000" stroke-width="2.7" stroke-linejoin="round" stroke-linecap="round"/>
<polygon points="1880.60,396.40 1880.60,414.20 1898.20,405.30" fill="none" stroke="#000000" stroke-width="2.7" stroke-linejoin="round" stroke-linecap="round"/>
<polygon points="1919.60,393.30 1919.60,411.10 1937.20,402.20" fill="none" stroke="#000000" stroke-width="2.7" stroke-linejoin="round" stroke-linecap="round"/>
<polygon points="1943.00,418.30 1943.00,436.10 1960.60,427.20" fill="none" stroke="#000000" stroke-width="2.7" stroke-linejoin="round" stroke-linecap="round"/>
<polyline points="1794.70,160.00 1798.80,260.00 1807.00,392.90 1852.60,375.70 1890.00,414.70 1922.70,414.70 1949.20,449.00" fill="none" stroke="#000000" stroke-width="2.7" stroke-linejoin="round" stroke-linecap="round"/>
<polygon points="1785.30,151.10 1785.30,168.90 1802.90,160.00" fill="none" stroke="#000000" stroke-width="2.7" stroke-linejoin="round" stroke-linecap="round"/>
<polygon points="1789.40,251.10 1789.40,268.90 1807.00,260.00" fill="none" stroke="#000000" stroke-width="2.7" stroke-linejoin="round" stroke-linecap="round"/>
<polygon points="1797.60,384.00 1797.60,401.80 1815.20,392.90" fill="none" stroke="#000000" stroke-width="2.7" stroke-linejoin="round" stroke-linecap="round"/>
<polygon points="1843.20,366.80 1843.20,384.60 1860.80,375.70" fill="none" stroke="#000000" stroke-width="2.7" stroke-linejoin="round" stroke-linecap="round"/>
<polygon points="1880.60,405.80 1880.60,423.60 1898.20,414.70" fill="none" stroke="#000000" stroke-width="2.7" stroke-linejoin="round" stroke-linecap="round"/>
<polygon points="1913.30,405.80 1913.30,423.60 1930.90,414.70" fill="none" stroke="#000000" stroke-width="2.7" stroke-linejoin="round" stroke-linecap="round"/>
<polygon points="1939.80,440.10 1939.80,457.90 1957.40,449.00" fill="none" stroke="#000000" stroke-width="2.7" stroke-linejoin="round" stroke-linecap="round"/>
<polyline points="1797.50,120.00 1800.00,217.60 1805.30,187.50 1854.20,357.00 1890.00,459.90 1925.90,453.70 1952.40,456.80" fill="none" stroke="#000000" stroke-width="2.7" stroke-linejoin="round" stroke-linecap="round"/>
<polygon points="1788.10,111.10 1788.10,128.90 1805.70,120.00" fill="none" stroke="#000000" stroke-width="2.7" stroke-linejoin="round" stroke-linecap="round"/>
<polygon points="1790.60,208.70 1790.60,226.50 1808.20,217.60" fill="none" stroke="#000000" stroke-width="2.7" stroke-linejoin="round" stroke-linecap="round"/>
<polygon points="1795.90,178.60 1795.90,196.40 1813.50,187.50" fill="none" stroke="#000000" stroke-width="2.7" stroke-linejoin="round" stroke-linecap="round"/>
<polygon points="1844.80,348.10 1844.80,365.90 1862.40,357.00" fill="none" stroke="#000000" stroke-width="2.7" stroke-linejoin="round" stroke-linecap="round"/>
<polygon points="1880.60,451.00 1880.60,468.80 1898.20,459.90" fill="none" stroke="#000000" stroke-width="2.7" stroke-linejoin="round" stroke-linecap="round"/>
<polygon points="1916.50,444.80 1916.50,462.60 1934.10,453.70" fill="none" stroke="#000000" stroke-width="2.7" stroke-linejoin="round" stroke-linecap="round"/>
<polygon points="1943.00,447.90 1943.00,465.70 1960.60,456.80" fill="none" stroke="#000000" stroke-width="2.7" stroke-linejoin="round" stroke-linecap="round"/>
<polyline points="1795.30,190.00 1799.00,260.60 1806.00,357.00 1860.40,363.00 1897.80,467.70 1924.30,467.70 1949.20,477.00" fill="none" stroke="#000000" stroke-width="2.7" stroke-linejoin="round" stroke-linecap="round"/>
<polygon points="1785.90,181.10 1785.90,198.90 1803.50,190.00" fill="none" stroke="#000000" stroke-width="2.7" stroke-linejoin="round" stroke-linecap="round"/>
<polygon points="1789.60,251.70 1789.60,269.50 1807.20,260.60" fill="none" stroke="#000000" stroke-width="2.7" stroke-linejoin="round" stroke-linecap="round"/>
<polygon points="1796.60,348.10 1796.60,365.90 1814.20,357.00" fill="none" stroke="#000000" stroke-width="2.7" stroke-linejoin="round" stroke-linecap="round"/>
<polygon points="1851.00,354.10 1851.00,371.90 1868.60,363.00" fill="none" stroke="#000000" stroke-width="2.7" stroke-linejoin="round" stroke-linecap="round"/>
<polygon points="1888.40,458.80 1888.40,476.60 1906.00,467.70" fill="none" stroke="#000000" stroke-width="2.7" stroke-linejoin="round" stroke-linecap="round"/>
<polygon points="1914.90,458.80 1914.90,476.60 1932.50,467.70" fill="none" stroke="#000000" stroke-width="2.7" stroke-linejoin="round" stroke-linecap="round"/>
<polygon points="1939.80,468.10 1939.80,485.90 1957.40,477.00" fill="none" stroke="#000000" stroke-width="2.7" stroke-linejoin="round" stroke-linecap="round"/>
<line x1="1352.80" y1="61.80" x2="1397.40" y2="61.80" stroke="#ff0000" stroke-width="2.6" stroke-linecap="butt"/>
<circle cx="1374.80" cy="61.80" r="10.0" fill="none" stroke="#ff0000" stroke-width="2.7"/>
<line x1="1352.80" y1="125.20" x2="1397.40" y2="125.20" stroke="#0000ff" stroke-width="2.6" stroke-linecap="butt"/>
<rect x="1364.90" y="115.30" width="19.8" height="19.8" fill="none" stroke="#0000ff" stroke-width="2.7"/>
<line x1="1548.80" y1="61.80" x2="1594.00" y2="61.80" stroke="#006400" stroke-width="2.6" stroke-linecap="butt"/>
<polygon points="1562.40,53.00 1580.00,53.00 1571.20,69.60" fill="none" stroke="#006400" stroke-width="2.7" stroke-linejoin="round" stroke-linecap="round"/>
<line x1="1549.00" y1="125.00" x2="1593.60" y2="125.00" stroke="#000000" stroke-width="2.6" stroke-linecap="butt"/>
<polygon points="1561.60,116.10 1561.60,133.90 1579.20,125.00" fill="none" stroke="#000000" stroke-width="2.7" stroke-linejoin="round" stroke-linecap="round"/>
<text><tspan class="sans" x="29.15" y="63.00" font-size="72.46" textLength="19.79" lengthAdjust="spacingAndGlyphs">(</tspan><tspan class="sans" x="49.70" y="62.60" font-size="71.08" textLength="34.84" lengthAdjust="spacingAndGlyphs">a</tspan><tspan class="sans" x="90.60" y="63.00" font-size="72.46" textLength="20.73" lengthAdjust="spacingAndGlyphs">)</tspan></text>
<text><tspan class="sans" x="417.45" y="68.40" font-size="45.42" textLength="92.06" lengthAdjust="spacingAndGlyphs">HSS</tspan></text>
<text><tspan class="sans" x="619.05" y="68.00" font-size="44.86" textLength="61.91" lengthAdjust="spacingAndGlyphs">DA</tspan></text>
<text><tspan class="sans" x="805.40" y="70.40" font-size="35.51" textLength="177.44" lengthAdjust="spacingAndGlyphs">Average of</tspan></text>
<text><tspan class="sans" x="417.45" y="143.80" font-size="45.42" textLength="97.99" lengthAdjust="spacingAndGlyphs">SBM</tspan></text>
<text><tspan class="sans" x="621.15" y="143.80" font-size="45.42" textLength="57.75" lengthAdjust="spacingAndGlyphs">SA</tspan></text>
<text><tspan class="sans" x="800.70" y="146.20" font-size="36.15" textLength="185.54" lengthAdjust="spacingAndGlyphs">6 instances</tspan></text>
<text><tspan class="serif" x="104.10" y="141.50" font-size="60.00" textLength="37.51" lengthAdjust="spacingAndGlyphs">−</tspan><tspan class="serif" x="142.25" y="140.60" font-size="60.76" textLength="131.81" lengthAdjust="spacingAndGlyphs">0.754</tspan></text>
<text><tspan class="serif" x="104.10" y="260.30" font-size="60.00" textLength="37.51" lengthAdjust="spacingAndGlyphs">−</tspan><tspan class="serif" x="141.75" y="259.40" font-size="60.76" textLength="132.82" lengthAdjust="spacingAndGlyphs">0.756</tspan></text>
<text transform="translate(54.25,393.85) rotate(-90)"><tspan class="serif" x="0.00" y="0.00" font-size="62.35" font-style="italic" textLength="93.64" lengthAdjust="spacingAndGlyphs">E/N</tspan></text>
<text><tspan class="serif" x="104.10" y="380.90" font-size="60.00" textLength="37.51" lengthAdjust="spacingAndGlyphs">−</tspan><tspan class="serif" x="142.25" y="380.00" font-size="60.76" textLength="132.82" lengthAdjust="spacingAndGlyphs">0.758</tspan></text>
<text><tspan class="serif" x="133.20" y="501.30" font-size="60.00" textLength="37.47" lengthAdjust="spacingAndGlyphs">−</tspan><tspan class="serif" x="171.85" y="500.40" font-size="60.76" textLength="103.02" lengthAdjust="spacingAndGlyphs">0.76</tspan></text>
<text><tspan class="serif" x="104.10" y="621.90" font-size="60.00" textLength="37.51" lengthAdjust="spacingAndGlyphs">−</tspan><tspan class="serif" x="142.25" y="621.00" font-size="60.76" textLength="133.84" lengthAdjust="spacingAndGlyphs">0.762</tspan></text>
<text><tspan class="serif" x="421.90" y="662.60" font-size="60.16" textLength="86.97" lengthAdjust="spacingAndGlyphs">100</tspan></text>
<text><tspan class="serif" x="870.65" y="662.60" font-size="60.16" textLength="115.00" lengthAdjust="spacingAndGlyphs">1000</tspan></text>
<text><tspan class="sans" x="556.85" y="748.80" font-size="61.59" textLength="113.94" lengthAdjust="spacingAndGlyphs">time</tspan> <tspan class="serif" x="685.30" y="753.00" font-size="61.00" textLength="18.02" lengthAdjust="spacingAndGlyphs">[</tspan><tspan class="serif" x="702.20" y="749.60" font-size="56.55" font-style="italic" textLength="23.99" lengthAdjust="spacingAndGlyphs">s</tspan><tspan class="serif" x="725.60" y="753.00" font-size="61.00" textLength="19.52" lengthAdjust="spacingAndGlyphs">]</tspan></text>
<text><tspan class="sans" x="1095.50" y="63.00" font-size="72.46" textLength="21.93" lengthAdjust="spacingAndGlyphs">(</tspan><tspan class="sans" x="1118.45" y="62.60" font-size="70.40" textLength="39.81" lengthAdjust="spacingAndGlyphs">b</tspan><tspan class="sans" x="1161.40" y="63.00" font-size="72.46" textLength="21.01" lengthAdjust="spacingAndGlyphs">)</tspan></text>
<text><tspan class="sans" x="1430.65" y="68.20" font-size="46.01" textLength="91.84" lengthAdjust="spacingAndGlyphs">HSS</tspan></text>
<text><tspan class="sans" x="1643.75" y="67.80" font-size="44.00" textLength="61.67" lengthAdjust="spacingAndGlyphs">DA</tspan></text>
<text><tspan class="sans" x="1431.00" y="143.80" font-size="45.42" textLength="97.49" lengthAdjust="spacingAndGlyphs">SBM</tspan></text>
<text><tspan class="sans" x="1645.40" y="143.80" font-size="45.42" textLength="25.39" lengthAdjust="spacingAndGlyphs">S</tspan><tspan class="sans" x="1670.15" y="142.80" font-size="44.00" textLength="27.24" lengthAdjust="spacingAndGlyphs">A</tspan></text>
<text><tspan class="serif" x="1127.70" y="141.70" font-size="60.00" textLength="35.80" lengthAdjust="spacingAndGlyphs">−</tspan><tspan class="serif" x="1164.40" y="140.80" font-size="60.76" textLength="128.84" lengthAdjust="spacingAndGlyphs">0.754</tspan></text>
<text><tspan class="serif" x="1127.70" y="260.50" font-size="60.00" textLength="35.80" lengthAdjust="spacingAndGlyphs">−</tspan><tspan class="serif" x="1164.40" y="259.60" font-size="60.76" textLength="129.83" lengthAdjust="spacingAndGlyphs">0.756</tspan></text>
<text transform="translate(1077.95,370.90) rotate(-90)"><tspan class="serif" x="0.00" y="0.00" font-size="60.32" font-style="italic" textLength="94.51" lengthAdjust="spacingAndGlyphs">E/N</tspan></text>
<text><tspan class="serif" x="1127.70" y="381.10" font-size="60.00" textLength="35.80" lengthAdjust="spacingAndGlyphs">−</tspan><tspan class="serif" x="1164.40" y="380.20" font-size="60.76" textLength="130.87" lengthAdjust="spacingAndGlyphs">0.758</tspan></text>
<text><tspan class="serif" x="1156.50" y="501.50" font-size="60.00" textLength="35.80" lengthAdjust="spacingAndGlyphs">−</tspan><tspan class="serif" x="1194.20" y="500.60" font-size="60.76" textLength="100.42" lengthAdjust="spacingAndGlyphs">0.76</tspan></text>
<text><tspan class="serif" x="1127.70" y="622.10" font-size="60.00" textLength="35.80" lengthAdjust="spacingAndGlyphs">−</tspan><tspan class="serif" x="1164.40" y="621.20" font-size="60.76" textLength="131.87" lengthAdjust="spacingAndGlyphs">0.762</tspan></text>
<text><tspan class="serif" x="1434.05" y="662.20" font-size="60.16" textLength="88.17" lengthAdjust="spacingAndGlyphs">100</tspan></text>
<text><tspan class="serif" x="1865.05" y="662.20" font-size="60.16" textLength="116.50" lengthAdjust="spacingAndGlyphs">1000</tspan></text>
<text><tspan class="sans" x="1584.75" y="749.20" font-size="61.59" textLength="112.91" lengthAdjust="spacingAndGlyphs">time</tspan> <tspan class="serif" x="1710.90" y="752.20" font-size="62.45" textLength="18.61" lengthAdjust="spacingAndGlyphs">[</tspan><tspan class="serif" x="1728.00" y="749.80" font-size="56.55" font-style="italic" textLength="23.75" lengthAdjust="spacingAndGlyphs">s</tspan><tspan class="serif" x="1750.40" y="752.20" font-size="62.45" textLength="18.50" lengthAdjust="spacingAndGlyphs">]</tspan></text>
</g>
</svg>
</body>
</html>
